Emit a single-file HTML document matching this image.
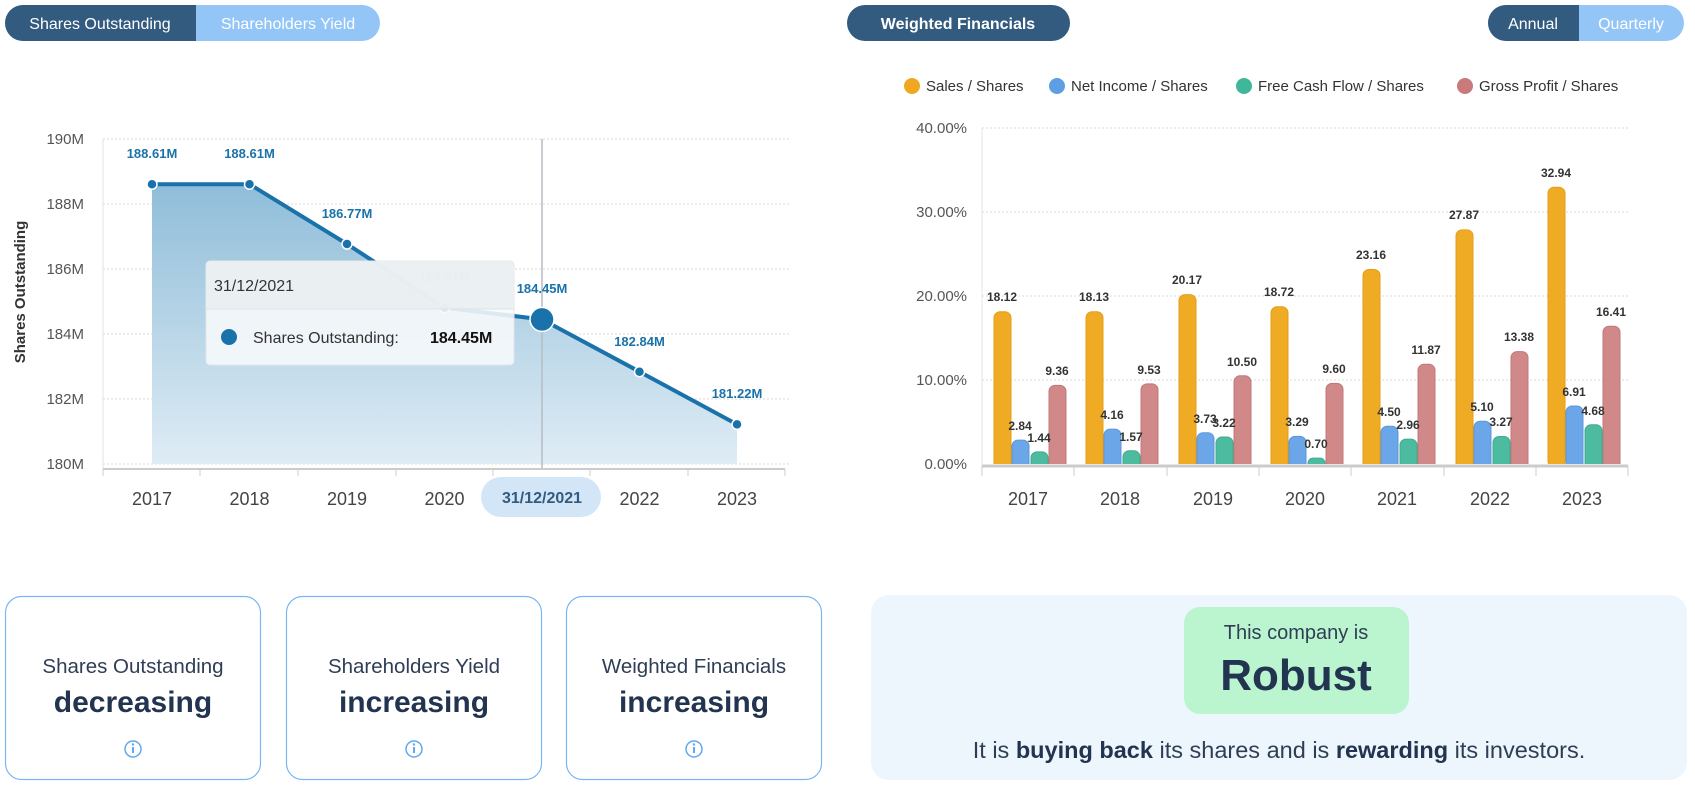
<!DOCTYPE html>
<html><head><meta charset="utf-8"><style>
html,body{margin:0;padding:0;background:#fff;width:1695px;height:793px;overflow:hidden}
svg{display:block;font-family:"Liberation Sans",sans-serif}
</style></head><body>
<svg width="1695" height="793" viewBox="0 0 1695 793" xmlns="http://www.w3.org/2000/svg">
<defs>
<linearGradient id="fg" x1="0" y1="0" x2="0" y2="1"><stop offset="0" stop-color="#8fbdd9"/><stop offset="1" stop-color="#dfecf5"/></linearGradient>
<clipPath id="cb"><rect x="900" y="100" width="760" height="364"/></clipPath>
</defs>
<!-- top buttons -->
<rect x="5" y="5" width="375" height="36" rx="18" fill="#93c6f7"/>
<path d="M23 5 H196 V41 H23 A18 18 0 0 1 23 5Z" fill="#325b7f"/>
<text x="100" y="29" font-size="16" fill="#fff" text-anchor="middle">Shares Outstanding</text>
<text x="288" y="29" font-size="16" fill="#fff" text-anchor="middle">Shareholders Yield</text>
<rect x="847" y="5" width="223" height="36" rx="18" fill="#325b7f"/>
<text x="958" y="29" font-size="16" font-weight="bold" fill="#fff" text-anchor="middle">Weighted Financials</text>
<rect x="1488" y="5" width="196" height="36" rx="18" fill="#93c6f7"/>
<path d="M1506 5 H1579 V41 H1506 A18 18 0 0 1 1506 5Z" fill="#325b7f"/>
<text x="1533" y="29" font-size="16" fill="#fff" text-anchor="middle">Annual</text>
<text x="1631" y="29" font-size="16" fill="#fff" text-anchor="middle">Quarterly</text>

<!-- left chart -->
<g stroke="#d8d8d8" stroke-dasharray="2,2" stroke-width="1">
<line x1="103" y1="139" x2="790" y2="139"/><line x1="103" y1="204" x2="790" y2="204"/><line x1="103" y1="269" x2="790" y2="269"/><line x1="103" y1="334" x2="790" y2="334"/><line x1="103" y1="399" x2="790" y2="399"/><line x1="103" y1="464" x2="790" y2="464"/>
</g>
<line x1="103" y1="139" x2="103" y2="469" stroke="#e3e3e3"/>
<g font-size="15" fill="#555" text-anchor="end">
<text x="84" y="144">190M</text><text x="84" y="209">188M</text><text x="84" y="274">186M</text><text x="84" y="339">184M</text><text x="84" y="404">182M</text><text x="84" y="469">180M</text>
</g>
<text transform="translate(25,292) rotate(-90)" font-size="15" font-weight="bold" fill="#333" text-anchor="middle">Shares Outstanding</text>
<path d="M152 184.2 L249.5 184.2 L347 244 L444.5 307.7 L542 319.4 L639.5 371.7 L737 424.4 L737 464 L152 464Z" fill="url(#fg)"/>
<line x1="542" y1="139" x2="542" y2="469" stroke="#b5bcc2" stroke-width="1.5"/>
<polyline points="152,184.2 249.5,184.2 347,244 444.5,307.7 542,319.4 639.5,371.7 737,424.4" fill="none" stroke="#1a72aa" stroke-width="4" stroke-linejoin="round"/>
<g fill="#1a72aa" stroke="#fff" stroke-width="1.5">
<circle cx="152" cy="184.2" r="5"/><circle cx="249.5" cy="184.2" r="5"/><circle cx="347" cy="244" r="5"/><circle cx="444.5" cy="307.7" r="5"/><circle cx="639.5" cy="371.7" r="5"/><circle cx="737" cy="424.4" r="5"/>
<circle cx="542" cy="319.4" r="12"/>
</g>
<g font-size="13" font-weight="bold" fill="#1a72aa" text-anchor="middle">
<text x="152" y="158">188.61M</text><text x="249.5" y="158">188.61M</text><text x="347" y="218">186.77M</text><text x="444.5" y="281">184.81M</text><text x="542" y="293">184.45M</text><text x="639.5" y="346">182.84M</text><text x="737" y="398">181.22M</text>
</g>
<line x1="103" y1="469" x2="785" y2="469" stroke="#ccc" stroke-width="2"/>
<g stroke="#ccc"><line x1="103" y1="469" x2="103" y2="476"/><line x1="200" y1="469" x2="200" y2="476"/><line x1="298" y1="469" x2="298" y2="476"/><line x1="396" y1="469" x2="396" y2="476"/><line x1="493" y1="469" x2="493" y2="476"/><line x1="590" y1="469" x2="590" y2="476"/><line x1="688" y1="469" x2="688" y2="476"/><line x1="785" y1="469" x2="785" y2="476"/></g>
<rect x="481" y="477" width="120" height="40" rx="20" fill="#d3e6f8"/>
<g font-size="18" fill="#444" text-anchor="middle">
<text x="152" y="505">2017</text><text x="249.5" y="505">2018</text><text x="347" y="505">2019</text><text x="444.5" y="505">2020</text><text x="639.5" y="505">2022</text><text x="737" y="505">2023</text>
</g>
<text x="542" y="503" font-size="16" font-weight="bold" fill="#325b7f" text-anchor="middle">31/12/2021</text>
<!-- tooltip -->
<rect x="206" y="261" width="308" height="104" rx="4" fill="#f7f9fb" fill-opacity="0.88" stroke="#e2e6ea"/>
<path d="M210 261 H510 A4 4 0 0 1 514 265 V309 H206 V265 A4 4 0 0 1 210 261Z" fill="#e9eef1" fill-opacity="0.85"/>
<line x1="206" y1="309" x2="514" y2="309" stroke="#dde2e6"/>
<text x="214" y="291" font-size="16" fill="#333">31/12/2021</text>
<circle cx="229" cy="337" r="8" fill="#1a72aa"/>
<text x="253" y="343" font-size="16" fill="#333">Shares Outstanding:</text>
<text x="430" y="343" font-size="16" font-weight="bold" fill="#111">184.45M</text>

<!-- right chart legend -->
<g font-size="15" fill="#333">
<circle cx="912" cy="86" r="8" fill="#f0a81e"/><text x="926" y="91">Sales / Shares</text>
<circle cx="1057" cy="86" r="8" fill="#5e9fe3"/><text x="1071" y="91">Net Income / Shares</text>
<circle cx="1244" cy="86" r="8" fill="#3fb79b"/><text x="1258" y="91">Free Cash Flow / Shares</text>
<circle cx="1465" cy="86" r="8" fill="#c97a7a"/><text x="1479" y="91">Gross Profit / Shares</text>
</g>
<g stroke="#d8d8d8" stroke-dasharray="2,2"><line x1="982" y1="128" x2="1628" y2="128"/><line x1="982" y1="212" x2="1628" y2="212"/><line x1="982" y1="296" x2="1628" y2="296"/><line x1="982" y1="380" x2="1628" y2="380"/></g>
<line x1="982" y1="128" x2="982" y2="469" stroke="#e3e3e3"/>
<g font-size="15" fill="#555" text-anchor="end">
<text x="967" y="133">40.00%</text><text x="967" y="217">30.00%</text><text x="967" y="301">20.00%</text><text x="967" y="385">10.00%</text><text x="967" y="469">0.00%</text>
</g>
<g clip-path="url(#cb)">
<g fill="#f0ab25" stroke="#e49e16">
<rect x="994" y="311.8" width="17" height="160" rx="6"/><rect x="1086" y="311.7" width="17" height="160" rx="6"/><rect x="1179" y="294.6" width="17" height="180" rx="6"/><rect x="1271" y="306.8" width="17" height="170" rx="6"/><rect x="1363" y="269.5" width="17" height="200" rx="6"/><rect x="1456" y="229.9" width="17" height="240" rx="6"/><rect x="1548" y="187.3" width="17" height="280" rx="6"/>
</g>
<g fill="#6aa6e8" stroke="#5d97d8">
<rect x="1012" y="440.1" width="17" height="30" rx="6"/><rect x="1104" y="429.1" width="17" height="40" rx="6"/><rect x="1197" y="432.7" width="17" height="40" rx="6"/><rect x="1289" y="436.4" width="17" height="40" rx="6"/><rect x="1381" y="426.2" width="17" height="45" rx="6"/><rect x="1474" y="421.2" width="17" height="50" rx="6"/><rect x="1566" y="406" width="17" height="65" rx="6"/>
</g>
<g fill="#4cbba0" stroke="#41ab91">
<rect x="1031" y="451.9" width="17" height="20" rx="6"/><rect x="1123" y="450.8" width="17" height="20" rx="6"/><rect x="1216" y="437" width="17" height="35" rx="6"/><rect x="1308" y="458.1" width="17" height="15" rx="5"/><rect x="1400" y="439.1" width="17" height="30" rx="6"/><rect x="1493" y="436.5" width="17" height="35" rx="6"/><rect x="1585" y="424.7" width="17" height="45" rx="6"/>
</g>
<g fill="#d08888" stroke="#c17878">
<rect x="1049" y="385.4" width="17" height="85" rx="6"/><rect x="1141" y="383.9" width="17" height="85" rx="6"/><rect x="1234" y="375.8" width="17" height="95" rx="6"/><rect x="1326" y="383.4" width="17" height="85" rx="6"/><rect x="1418" y="364.3" width="17" height="105" rx="6"/><rect x="1511" y="351.6" width="17" height="120" rx="6"/><rect x="1603" y="326.2" width="17" height="145" rx="6"/>
</g>
</g>
<g font-size="12" font-weight="bold" fill="#333" text-anchor="middle">
<text x="1002" y="301">18.12</text><text x="1020" y="430">2.84</text><text x="1039" y="442">1.44</text><text x="1057" y="375">9.36</text>
<text x="1094" y="301">18.13</text><text x="1112" y="419">4.16</text><text x="1131" y="441">1.57</text><text x="1149" y="374">9.53</text>
<text x="1187" y="284">20.17</text><text x="1205" y="423">3.73</text><text x="1224" y="427">3.22</text><text x="1242" y="366">10.50</text>
<text x="1279" y="296">18.72</text><text x="1297" y="426">3.29</text><text x="1316" y="448">0.70</text><text x="1334" y="373">9.60</text>
<text x="1371" y="259">23.16</text><text x="1389" y="416">4.50</text><text x="1408" y="429">2.96</text><text x="1426" y="354">11.87</text>
<text x="1464" y="219">27.87</text><text x="1482" y="411">5.10</text><text x="1501" y="426">3.27</text><text x="1519" y="341">13.38</text>
<text x="1556" y="177">32.94</text><text x="1574" y="396">6.91</text><text x="1593" y="415">4.68</text><text x="1611" y="316">16.41</text>
</g>
<line x1="982" y1="466" x2="1628" y2="466" stroke="#ccc" stroke-width="3"/>
<g stroke="#ccc"><line x1="982" y1="466" x2="982" y2="476"/><line x1="1074" y1="466" x2="1074" y2="476"/><line x1="1167" y1="466" x2="1167" y2="476"/><line x1="1259" y1="466" x2="1259" y2="476"/><line x1="1351" y1="466" x2="1351" y2="476"/><line x1="1444" y1="466" x2="1444" y2="476"/><line x1="1536" y1="466" x2="1536" y2="476"/><line x1="1628" y1="466" x2="1628" y2="476"/></g>
<g font-size="18" fill="#444" text-anchor="middle">
<text x="1028" y="505">2017</text><text x="1120" y="505">2018</text><text x="1213" y="505">2019</text><text x="1305" y="505">2020</text><text x="1397" y="505">2021</text><text x="1490" y="505">2022</text><text x="1582" y="505">2023</text>
</g>

<!-- bottom cards -->
<g fill="#fff" stroke="#7ab6f2" stroke-width="1.2">
<rect x="5.5" y="596.5" width="255" height="183" rx="16"/><rect x="286.5" y="596.5" width="255" height="183" rx="16"/><rect x="566.5" y="596.5" width="255" height="183" rx="16"/>
</g>
<g text-anchor="middle">
<text x="133" y="673" font-size="20.5" fill="#2f3e55">Shares Outstanding</text>
<text x="133" y="712" font-size="30" font-weight="bold" fill="#22344f">decreasing</text>
<text x="414" y="673" font-size="20.5" fill="#2f3e55">Shareholders Yield</text>
<text x="414" y="712" font-size="30" font-weight="bold" fill="#22344f">increasing</text>
<text x="694" y="673" font-size="20.5" fill="#2f3e55">Weighted Financials</text>
<text x="694" y="712" font-size="30" font-weight="bold" fill="#22344f">increasing</text>
</g>
<g fill="none" stroke="#62a8ef" stroke-width="1.5">
<circle cx="133" cy="749" r="8"/><circle cx="414" cy="749" r="8"/><circle cx="694" cy="749" r="8"/><circle cx="1159" cy="661" r="8"/>
</g>
<g fill="#62a8ef">
<rect x="132" y="747" width="2" height="6"/><circle cx="133" cy="744.5" r="1.2"/>
<rect x="413" y="747" width="2" height="6"/><circle cx="414" cy="744.5" r="1.2"/>
<rect x="693" y="747" width="2" height="6"/><circle cx="694" cy="744.5" r="1.2"/>
<rect x="1158" y="659" width="2" height="6"/><circle cx="1159" cy="656.5" r="1.2"/>
</g>
<rect x="871" y="595" width="816" height="185" rx="18" fill="#eef6fd"/>
<rect x="1184" y="607" width="225" height="107" rx="16" fill="#bbf5d0"/>
<text x="1296" y="639" font-size="20" fill="#2f3e55" text-anchor="middle">This company is</text>
<text x="1296" y="690" font-size="44" font-weight="bold" fill="#22344f" text-anchor="middle">Robust</text>
<text x="1279" y="758" font-size="23.5" fill="#2f3e55" text-anchor="middle">It is <tspan font-weight="bold" fill="#22344f">buying back</tspan> its shares and is <tspan font-weight="bold" fill="#22344f">rewarding</tspan> its investors.</text>
</svg>
</body></html>
